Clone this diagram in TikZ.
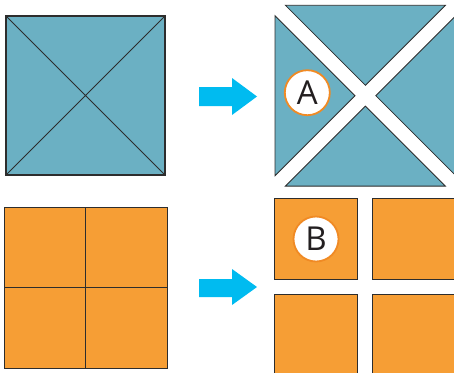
\documentclass[tikz,border=0pt]{standalone}
\usepackage{fontspec}
\setmainfont{Open Sans}
\usepackage{tikz}
\usetikzlibrary{calc,positioning}
\definecolor{TileBlue}{RGB}{107,176,195}
\definecolor{TileOrange}{RGB}{246,158,53}
\definecolor{ArrowCyan}{RGB}{0,187,240}
\definecolor{RingOrange}{RGB}{240,138,36}
\definecolor{EdgeGray}{RGB}{45,45,45}
\definecolor{InkGray}{RGB}{35,31,32}
\tikzset{
  bluepiece/.style={fill=TileBlue,draw=EdgeGray,line width=0.8pt,line join=miter},
  orangepiece/.style={fill=TileOrange,draw=EdgeGray,line width=1pt},
  tag/.style={circle,fill=white,draw=RingOrange,line width=1.8pt,minimum size=45pt,inner sep=0pt,
    text=InkGray,font=\fontsize{33}{33}\selectfont}
}
\begin{document}
\begin{tikzpicture}[x=1pt,y=-1pt]
  \useasboundingbox (0,0) rectangle (454,372);
  \clip (0,0) rectangle (454,372);
  % whole square cut along the diagonals
  \draw[bluepiece,line width=1.1pt] (6,16) rectangle (165,175);
  \draw[EdgeGray,line width=0.8pt] (6,16)--(165,175) (165,16)--(6,175);
  % whole square cut into quarters
  \draw[orangepiece] (4,207) rectangle (167,368);
  \draw[EdgeGray,line width=0.8pt] (85.5,207)--(85.5,368) (4,287.5)--(167,287.5);
  % arrows
  \fill[ArrowCyan] (199,87)--(232,87)--(232,78)--(257,96.5)--(232,115)--(232,106)--(199,106)--cycle;
  \fill[ArrowCyan] (199,279)--(232,279)--(232,269)--(257,287)--(232,305)--(232,297)--(199,297)--cycle;
  % four triangles pulled apart
  \coordinate (xc) at (365.4,95.7);
  \foreach \ang in {0,90,180,270}
    \draw[bluepiece,rotate around={\ang:(xc)}]
      ($(xc)+(10.4,0)$)--($(xc)+(90.4,-80)$)--($(xc)+(90.4,80)$)--cycle;
  % four quarters pulled apart
  \foreach \i in {0,1}
    \foreach \j in {0,1}
      \draw[orangepiece] (274.7+97.5*\i,198.3+96*\j) rectangle ++(82.6,81.4);
  \node[tag] (tagA) at (307.3,92.7) {A};
  \node[tag] (tagB) at (316,239) {B};
\end{tikzpicture}
\end{document}
